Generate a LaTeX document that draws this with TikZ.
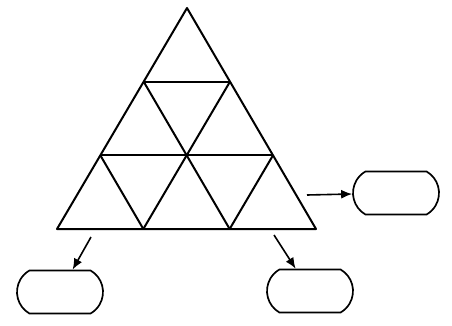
\documentclass[tikz,border=0pt]{standalone}
\usepackage{tikz}
\usetikzlibrary{arrows.meta,calc,shapes.misc}
\tikzset{
  gridline/.style={line width=2pt, line join=round},
  pointarrow/.style={-{Latex[length=11pt,width=9pt]}, line width=1.6pt},
  answerbox/.style={draw, rounded rectangle, rounded rectangle arc length=120, line width=1.7pt, minimum width=86pt, minimum height=43pt, inner sep=0pt}
}

\begin{document}
\begin{tikzpicture}[x=1pt, y=-1pt]
  \useasboundingbox (0,0) rectangle (452,326);
  % big triangle, cut into nine
  \coordinate (top) at (187,8);
  \coordinate (left) at (57,229);
  \coordinate (right) at (316,229);
  \draw[gridline] (top) -- (left) -- (right) -- cycle;
  \foreach \i in {1,2} {
    \draw[gridline] ($(top)!\i/3!(left)$) -- ($(top)!\i/3!(right)$);
    \draw[gridline] ($(left)!\i/3!(right)$) -- ($(top)!\i/3!(right)$);
    \draw[gridline] ($(right)!\i/3!(left)$) -- ($(top)!\i/3!(left)$);
  }
  % empty boxes
  \node[answerbox] (boxright) at (396,193) {};
  \node[answerbox] (boxleft) at (60,292) {};
  \node[answerbox] (boxbottom) at (310,291) {};
  \coordinate (fromright) at (307,195);
  \coordinate (fromleft) at (91,237);
  \coordinate (frombottom) at (274,235);
  \draw[pointarrow] (fromright) -- (boxright);
  \draw[pointarrow] (fromleft) -- (boxleft);
  \draw[pointarrow] (frombottom) -- (boxbottom);
\end{tikzpicture}
\end{document}
